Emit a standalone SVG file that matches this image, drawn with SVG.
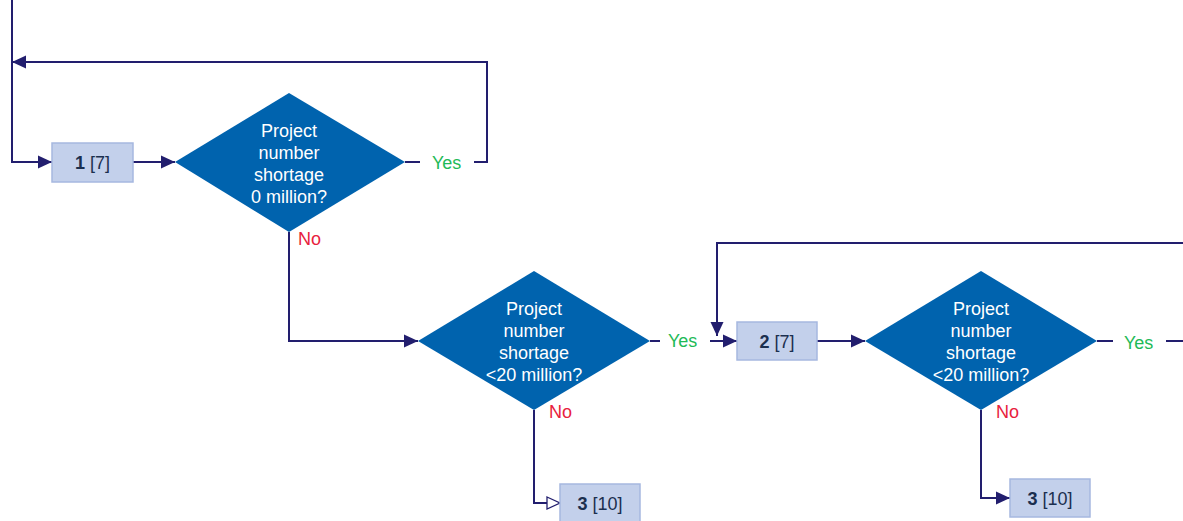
<svg xmlns="http://www.w3.org/2000/svg" width="1183" height="521" viewBox="0 0 1183 521">
<defs>
<marker id="arr" markerUnits="userSpaceOnUse" markerWidth="16" markerHeight="16" viewBox="0 0 16 16" refX="15" refY="8" orient="auto"><path d="M1,1.5 L15,8 L1,14.5 Z" fill="#221e6e"/></marker>
<marker id="arrh" markerUnits="userSpaceOnUse" markerWidth="16" markerHeight="16" viewBox="0 0 16 16" refX="14" refY="8" orient="auto"><path d="M1,2 L14,8 L1,14 Z" fill="#fff" stroke="#221e6e" stroke-width="1.3"/></marker>
<style>
.c{fill:none;stroke:#221e6e;stroke-width:2}
.d{fill:#0063ae}
.dt{font-family:"Liberation Sans",Arial,sans-serif;font-size:18px;fill:#fff;text-anchor:middle}
.b{fill:#c3d0eb;stroke:#a6b8e0;stroke-width:1.5}
.bt{font-family:"Liberation Sans",Arial,sans-serif;font-size:18px;fill:#1b2f4f;text-anchor:middle}
.y{font-family:"Liberation Sans",Arial,sans-serif;font-size:18px;fill:#1fba57}
.n{font-family:"Liberation Sans",Arial,sans-serif;font-size:18px;fill:#e8213d}
</style>
</defs>
<g id="connectors">
<polyline class="c" points="12,0 12,162 52,162" marker-end="url(#arr)"/>
<polyline class="c" points="474,162 487,162 487,62 12,62" marker-end="url(#arr)"/>
<line class="c" x1="405" y1="162" x2="420" y2="162"/>
<line class="c" x1="133" y1="162" x2="175" y2="162" marker-end="url(#arr)"/>
<polyline class="c" points="289,232 289,341 418,341" marker-end="url(#arr)"/>
<line class="c" x1="650" y1="341" x2="660" y2="341"/>
<line class="c" x1="710" y1="341" x2="737" y2="341" marker-end="url(#arr)"/>
<polyline class="c" points="1183,243 717,243 717,336" marker-end="url(#arr)"/>
<line class="c" x1="817" y1="341" x2="865" y2="341" marker-end="url(#arr)"/>
<line class="c" x1="1097" y1="341" x2="1113" y2="341"/>
<line class="c" x1="1166" y1="341" x2="1183" y2="341"/>
<polyline class="c" points="534,410 534,503 560,503" marker-end="url(#arrh)"/>
<polyline class="c" points="981,410 981,498 1010,498" marker-end="url(#arr)"/>
</g>
<g id="box1">
<rect class="b" x="52" y="143" width="81" height="39"/>
<text class="bt" x="92.5" y="169"><tspan font-weight="bold">1</tspan> [7]</text>
</g>
<g id="dec1">
<polygon class="d" points="175,162 289,93 405,162 289,232"/>
<text class="dt" x="289" y="137">Project</text>
<text class="dt" x="289" y="159">number</text>
<text class="dt" x="289" y="181">shortage</text>
<text class="dt" x="289" y="203">0 million?</text>
</g>
<text class="y" x="432" y="169">Yes</text>
<text class="n" x="298" y="245">No</text>
<g id="dec2">
<polygon class="d" points="418,341 534,271 650,341 534,410"/>
<text class="dt" x="534" y="315">Project</text>
<text class="dt" x="534" y="337">number</text>
<text class="dt" x="534" y="359">shortage</text>
<text class="dt" x="534" y="381">&lt;20 million?</text>
</g>
<text class="y" x="668" y="347">Yes</text>
<text class="n" x="549" y="418">No</text>
<g id="box2">
<rect class="b" x="737" y="322" width="80" height="38"/>
<text class="bt" x="777" y="348"><tspan font-weight="bold">2</tspan> [7]</text>
</g>
<g id="dec3">
<polygon class="d" points="865,341 981,271 1097,341 981,410"/>
<text class="dt" x="981" y="315">Project</text>
<text class="dt" x="981" y="337">number</text>
<text class="dt" x="981" y="359">shortage</text>
<text class="dt" x="981" y="381">&lt;20 million?</text>
</g>
<text class="y" x="1124" y="349">Yes</text>
<text class="n" x="996" y="418">No</text>
<g id="box3a">
<rect class="b" x="560" y="484" width="80" height="38"/>
<text class="bt" x="600" y="510"><tspan font-weight="bold">3</tspan> [10]</text>
</g>
<g id="box3b">
<rect class="b" x="1010" y="479" width="80" height="38"/>
<text class="bt" x="1050" y="505"><tspan font-weight="bold">3</tspan> [10]</text>
</g>
</svg>
